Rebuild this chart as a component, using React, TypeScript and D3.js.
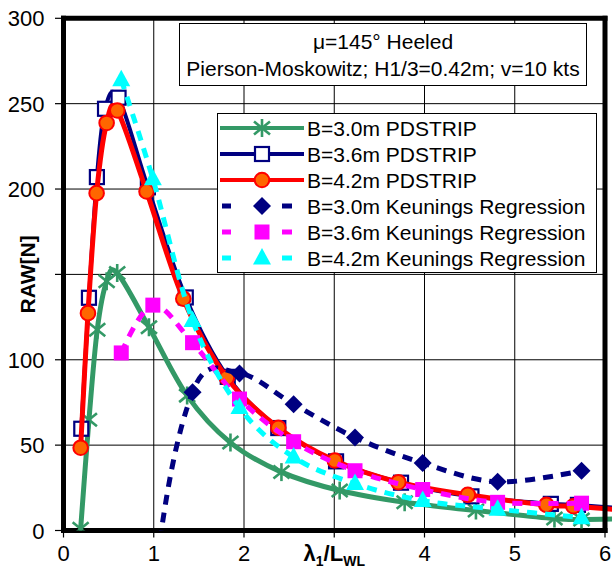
import React from "react";
import * as d3 from "d3";

const W = 612;
const H = 576;

// PDSTRIP results (added resistance vs. wave length ratio)
const pd30X = [0.19, 0.282, 0.374, 0.478, 0.595, 0.947, 1.37, 1.85, 2.415, 3.06, 3.78, 4.57, 5.44, 5.74, 6.3];
const pd30Y = [1, 64.8, 117.6, 146, 150.8, 119.1, 79, 51.5, 34.2, 23.4, 16.5, 11.7, 7, 6.5, 7];

const pd36X = [0.197, 0.282, 0.37, 0.46, 0.61, 0.935, 1.355, 1.82, 2.38, 3.02, 3.74, 4.52, 5.4, 5.7, 6.3];
const pd36Y = [59.6, 136.3, 207, 247, 253.5, 201, 136.5, 90, 60, 40.5, 28, 20, 15.6, 15, 12.5];

const pd42X = [0.19, 0.271, 0.367, 0.478, 0.596, 0.92, 1.327, 1.81, 2.38, 3.006, 3.71, 4.48, 5.35, 5.65, 6.3];
const pd42Y = [48.5, 127.3, 197.6, 238.7, 246, 198.6, 135.8, 89.5, 60.2, 41, 28.3, 20.9, 15, 14.2, 11.5];

// Keunings regression
const kenX = [0.64, 0.99, 1.43, 1.95, 2.55, 3.23, 3.98, 4.81, 5.74];
const ken30Y = [-300, -40, 81, 92, 74, 54.5, 39.5, 28.5, 35];
const ken36Y = [104, 132, 110, 77, 52, 35, 24, 16.5, 16];
const ken42Y = [264, 206, 123, 72, 43, 27.5, 17.5, 12.5, 7.5];

const yTicks = [0, 50, 100, 150, 200, 250, 300];
const yTickLabels = ["0", "50", "100", "", "200", "250", "300"];
const xTicks = [0, 1, 2, 3, 4, 5, 6];
const xTickLabels = ["0", "1", "2", "", "4", "5", "6"];

const legendLabels = [
  "B=3.0m PDSTRIP",
  "B=3.6m PDSTRIP",
  "B=4.2m PDSTRIP",
  "B=3.0m Keunings Regression",
  "B=3.6m Keunings Regression",
  "B=4.2m Keunings Regression",
];

const FONT = "'Liberation Sans', Arial, Helvetica, sans-serif";

type MarkerKind = "star" | "square" | "circle" | "diamond" | "fsquare" | "triangle";

interface Series {
  xs: number[];
  ys: number[];
  color: string;
  width: number;
  dash?: string;
  marker: MarkerKind;
}

const series: Series[] = [
  { xs: pd30X, ys: pd30Y, color: "#339966", width: 5, marker: "star" },
  { xs: pd36X, ys: pd36Y, color: "#000080", width: 4, marker: "square" },
  { xs: pd42X, ys: pd42Y, color: "#FF0000", width: 5, marker: "circle" },
  { xs: kenX, ys: ken30Y, color: "#000080", width: 5, dash: "10,8", marker: "diamond" },
  { xs: kenX, ys: ken36Y, color: "#FF00FF", width: 5, dash: "10,8", marker: "fsquare" },
  { xs: kenX, ys: ken42Y, color: "#00FFFF", width: 5, dash: "10,8", marker: "triangle" },
];

function Marker({ kind, cx, cy }: { kind: MarkerKind; cx: number; cy: number }) {
  switch (kind) {
    case "star":
      return (
        <g stroke="#339966" strokeWidth={2.6} fill="none">
          <line x1={cx} y1={cy - 9} x2={cx} y2={cy + 9} />
          <line x1={cx - 8} y1={cy - 6.5} x2={cx + 8} y2={cy + 6.5} />
          <line x1={cx - 8} y1={cy + 6.5} x2={cx + 8} y2={cy - 6.5} />
        </g>
      );
    case "square":
      return <rect x={cx - 7} y={cy - 7} width={14} height={14} fill="#FFFFFF" stroke="#000080" strokeWidth={2.2} />;
    case "circle":
      return <circle cx={cx} cy={cy} r={7.3} fill="#FF6600" stroke="#FF0000" strokeWidth={2} />;
    case "diamond":
      return <path d={`M${cx},${cy - 9}L${cx + 9},${cy}L${cx},${cy + 9}L${cx - 9},${cy}Z`} fill="#000080" />;
    case "fsquare":
      return <rect x={cx - 7.5} y={cy - 7.5} width={15} height={15} fill="#FF00FF" />;
    case "triangle":
      return <path d={`M${cx},${cy - 10}L${cx + 9},${cy + 6.5}L${cx - 9},${cy + 6.5}Z`} fill="#00FFFF" />;
  }
  return null;
}

export default function App() {
  const left = 63.5;
  const right = 605;
  const top = 18.3;
  const bottom = 530.5;

  const x = d3.scaleLinear().domain([0, 6]).range([left, right]);
  const y = d3.scaleLinear().domain([0, 300]).range([bottom, top]);

  const line = d3
    .line<[number, number]>()
    .x((d) => x(d[0]))
    .y((d) => y(d[1]))
    .curve(d3.curveCardinal.tension(0));

  const legendRows = [128, 154, 180, 206, 232, 258];

  return (
    <svg width={W} height={H} viewBox={`0 0 ${W} ${H}`} style={{ display: "block", position: "absolute", left: 0, top: 0 }}>
      <defs>
        <clipPath id="plotClip">
          <rect x={left} y={top} width={W - left} height={bottom - top} />
        </clipPath>
      </defs>
      <rect x={0} y={0} width={W} height={H} fill="#FFFFFF" />

      {/* gridlines */}
      <g stroke="#000000" strokeWidth={1}>
        {yTicks.slice(1, -1).map((t) => (
          <line key={`gy${t}`} x1={left} x2={right} y1={y(t)} y2={y(t)} />
        ))}
        {xTicks.slice(1, -1).map((t) => (
          <line key={`gx${t}`} x1={x(t)} x2={x(t)} y1={top} y2={bottom} />
        ))}
      </g>

      {/* tick marks */}
      <g stroke="#000000" strokeWidth={1.2}>
        {yTicks.map((t) => (
          <line key={`ty${t}`} x1={55} x2={left} y1={y(t)} y2={y(t)} />
        ))}
        {xTicks.map((t) => (
          <line key={`tx${t}`} x1={x(t)} x2={x(t)} y1={bottom} y2={bottom + 7} />
        ))}
      </g>

      {/* value axes */}
      <line x1={left} x2={left} y1={top - 2.5} y2={bottom + 2.5} stroke="#000" strokeWidth={5} />
      <line x1={left - 2.5} x2={right + 2.5} y1={bottom} y2={bottom} stroke="#000" strokeWidth={5} />

      {/* series */}
      <g clipPath="url(#plotClip)">
        {series.map((s, i) => {
          const pts: [number, number][] = s.xs.map((v, j) => [v, s.ys[j]]);
          return (
            <g key={`s${i}`}>
              <path
                d={line(pts) || ""}
                fill="none"
                stroke={s.color}
                strokeWidth={s.width}
                strokeDasharray={s.dash}
                strokeLinejoin="round"
              />
              {pts
                .filter((p) => p[0] >= 0 && p[0] <= 6 && p[1] >= 0 && p[1] <= 300)
                .map((p, j) => (
                  <Marker key={j} kind={s.marker} cx={x(p[0])} cy={y(p[1])} />
                ))}
            </g>
          );
        })}
      </g>

      {/* plot frame: top and right */}
      <line x1={left - 2.5} x2={right + 2.5} y1={top} y2={top} stroke="#000" strokeWidth={5} />
      <line x1={right} x2={right} y1={top - 2.5} y2={bottom + 2.5} stroke="#000" strokeWidth={5} />

      {/* tick labels */}
      <g fontFamily={FONT} fontSize={22} fill="#000">
        {yTicks.map((t, i) => (
          <text key={`ly${t}`} x={44.5} y={y(t) + 8} textAnchor="end">
            {yTickLabels[i]}
          </text>
        ))}
        {xTicks.map((t, i) => (
          <text key={`lx${t}`} x={x(t)} y={561} textAnchor="middle">
            {xTickLabels[i]}
          </text>
        ))}
      </g>

      {/* axis titles */}
      <text x={x(3)} y={561} textAnchor="middle" fontFamily={FONT} fontSize={22} fontWeight="bold">
        λ<tspan fontSize={14} dy={5}>1</tspan>
        <tspan dy={-5}>/L</tspan>
        <tspan fontSize={14} dy={5}>WL</tspan>
      </text>
      <text
        transform={`translate(35,${y(150)}) rotate(-90)`}
        textAnchor="middle"
        fontFamily={FONT}
        fontSize={21}
        fontWeight="bold"
      >
        RAW[N]
      </text>

      {/* condition box */}
      <rect x={179.5} y={23.5} width={407} height={62} fill="#FFFFFF" stroke="#000" strokeWidth={1} />
      <g fontFamily={FONT} fontSize={21} textAnchor="middle" fill="#000">
        <text x={383} y={48.5}>μ=145° Heeled</text>
        <text x={383} y={76}>Pierson-Moskowitz; H1/3=0.42m; v=10 kts</text>
      </g>

      {/* legend */}
      <rect x={217.5} y={113.5} width={379} height={159} fill="#FFFFFF" stroke="#000" strokeWidth={1} />
      {series.map((s, i) => {
        const ry = legendRows[i];
        return (
          <g key={`lg${i}`}>
            {s.dash ? (
              <g stroke={s.color} strokeWidth={s.width}>
                <line x1={222} x2={231} y1={ry} y2={ry} />
                <line x1={282} x2={292} y1={ry} y2={ry} />
              </g>
            ) : (
              <line x1={220} x2={304} y1={ry} y2={ry} stroke={s.color} strokeWidth={4} />
            )}
            <Marker kind={s.marker} cx={262} cy={ry} />
            <text x={307} y={ry + 7.5} fontFamily={FONT} fontSize={21} fill="#000">
              {legendLabels[i]}
            </text>
          </g>
        );
      })}
    </svg>
  );
}
